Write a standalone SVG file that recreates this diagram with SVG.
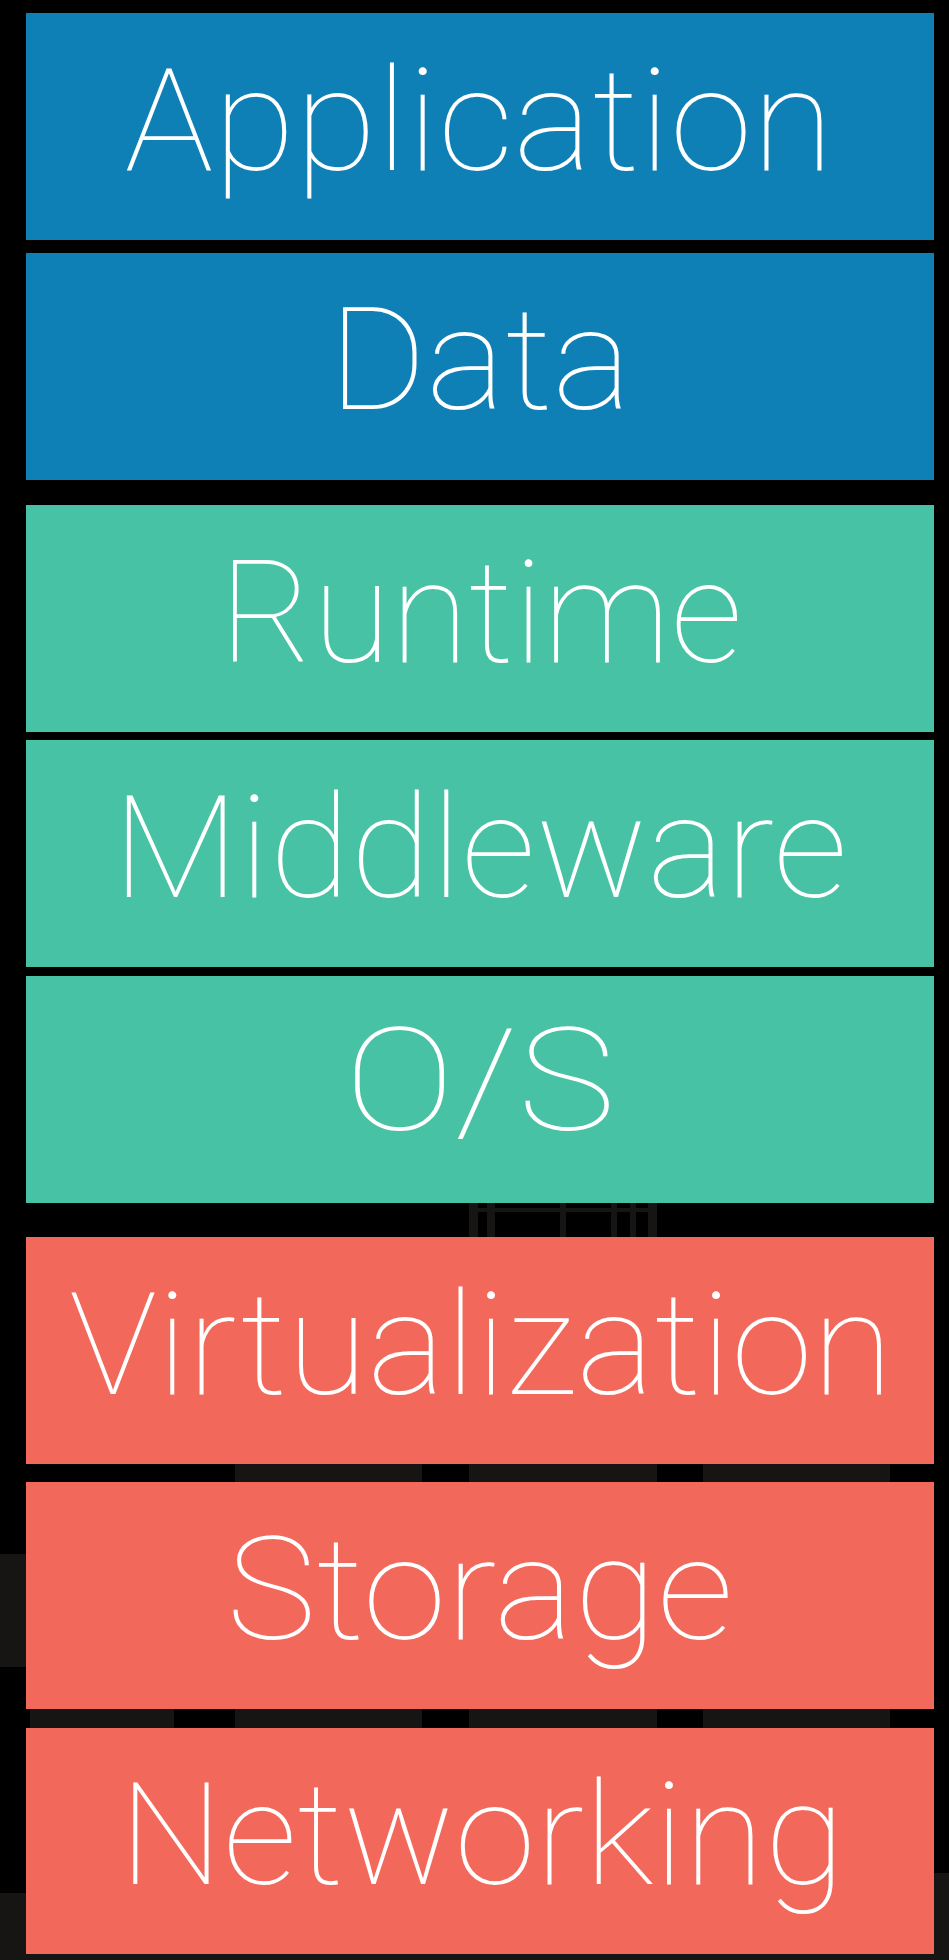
<svg xmlns="http://www.w3.org/2000/svg" width="949" height="1960" viewBox="0 0 949 1960">
<style>
.bg{fill:#000}
.ghost{fill:#161514}
.blue{fill:#0E80B6}
.teal{fill:#47C2A4}
.coral{fill:#F2695C}
.lbl{fill:#fff;font-family:Roboto,"Liberation Sans",sans-serif;font-weight:100;font-size:143px;text-anchor:middle}
</style>
<rect class="bg" x="0" y="0" width="949" height="1960"/>
<g id="background-marks">
<rect class="ghost" x="469" y="1203" width="9" height="34"/>
<rect class="ghost" x="487" y="1203" width="8" height="34"/>
<rect class="ghost" x="560" y="1203" width="6" height="34"/>
<rect class="ghost" x="611" y="1203" width="6" height="34"/>
<rect class="ghost" x="630" y="1203" width="6" height="34"/>
<rect class="ghost" x="648" y="1203" width="9" height="34"/>
<rect class="ghost" x="469" y="1208" width="188" height="4"/>
<rect class="ghost" x="235" y="1464" width="187" height="18"/>
<rect class="ghost" x="469" y="1464" width="188" height="18"/>
<rect class="ghost" x="703" y="1464" width="187" height="18"/>
<rect class="ghost" x="30" y="1709" width="144" height="19"/>
<rect class="ghost" x="235" y="1709" width="187" height="19"/>
<rect class="ghost" x="469" y="1709" width="188" height="19"/>
<rect class="ghost" x="703" y="1709" width="187" height="19"/>
<rect class="ghost" x="0" y="1554" width="26" height="113"/>
<rect class="ghost" x="0" y="1893" width="26" height="67"/>
<rect class="ghost" x="934" y="1873" width="15" height="87"/>
<rect class="ghost" x="0" y="1954" width="949" height="6"/>
</g>
<g id="connectors"></g>
<g id="application"><rect class="blue" x="26" y="13" width="908" height="227"/><text class="lbl" x="479" y="170" textLength="709" lengthAdjust="spacingAndGlyphs">Application</text></g>
<g id="data"><rect class="blue" x="26" y="253" width="908" height="227"/><text class="lbl" x="480" y="409" textLength="303" lengthAdjust="spacingAndGlyphs">Data</text></g>
<g id="runtime"><rect class="teal" x="26" y="505" width="908" height="227"/><text class="lbl" x="481" y="662" textLength="523" lengthAdjust="spacingAndGlyphs">Runtime</text></g>
<g id="middleware"><rect class="teal" x="26" y="740" width="908" height="227"/><text class="lbl" x="480" y="897" textLength="735" lengthAdjust="spacingAndGlyphs">Middleware</text></g>
<g id="os"><rect class="teal" x="26" y="976" width="908" height="227"/><text class="lbl" x="480" y="1130" textLength="271" lengthAdjust="spacingAndGlyphs">O/S</text></g>
<g id="virtualization"><rect class="coral" x="26" y="1237" width="908" height="227"/><text class="lbl" x="481" y="1394" textLength="824" lengthAdjust="spacingAndGlyphs">Virtualization</text></g>
<g id="storage"><rect class="coral" x="26" y="1482" width="908" height="227"/><text class="lbl" x="480" y="1639" textLength="507" lengthAdjust="spacingAndGlyphs">Storage</text></g>
<g id="networking"><rect class="coral" x="26" y="1728" width="908" height="226"/><text class="lbl" x="482" y="1884" textLength="726" lengthAdjust="spacingAndGlyphs">Networking</text></g>
</svg>
